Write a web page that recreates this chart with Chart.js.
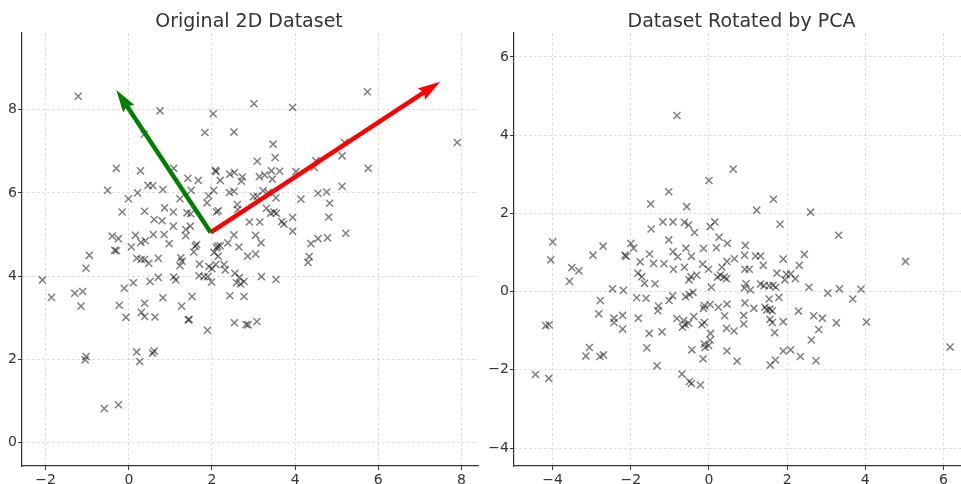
<!DOCTYPE html>
<html><head><meta charset="utf-8">
<script src="https://cdn.jsdelivr.net/npm/chart.js@4.4.0/dist/chart.umd.min.js"></script>
<style>
html,body{margin:0;padding:0;background:#fff;}
#w1{position:absolute;left:0;top:0;width:480px;height:484px;}
#w2{position:absolute;left:480px;top:0;width:481px;height:484px;}
</style></head><body>
<div id="w1"><canvas id="c1" width="480" height="484"></canvas></div>
<div id="w2"><canvas id="c2" width="481" height="484"></canvas></div>
<script>
const leftTitle = 'Original 2D Dataset';
const rightTitle = 'Dataset Rotated by PCA';
const leftXTicks = [-2, 0, 2, 4, 6, 8];
const leftYTicks = [0, 2, 4, 6, 8];
const rightXTicks = [-4, -2, 0, 2, 4, 6];
const rightYTicks = [-4, -2, 0, 2, 4, 6];

const origX = [-1.22,0.75,2.03,3.01,3.94,5.74,7.90,1.83,2.53,0.37,3.47,5.19,3.52,5.13,3.09,-0.30,0.28,1.08,1.42,1.67,2.08,2.10,2.20,2.43,2.54,2.73,2.71,3.14,3.27,3.43,3.45,3.63,4.02,4.46,4.50,5.76,-0.51,0.21,0.46,0.58,0.82,1.50,1.92,2.04,2.42,2.53,3.00,3.09,3.23,3.35,3.54,4.14,4.55,4.76,4.83,5.13,-0.01,-0.16,0.38,0.86,1.07,1.23,1.40,1.49,1.88,2.11,2.15,2.61,2.62,2.90,3.15,3.31,3.41,3.49,3.55,3.68,3.73,3.94,3.94,4.81,5.22,0.61,0.80,0.85,1.07,1.37,1.37,1.48,0.59,0.16,-0.40,-0.25,0.06,0.29,0.40,0.97,-0.34,-0.30,-0.95,-1.03,-2.08,-1.86,-1.30,-1.11,-1.15,-0.11,0.11,-0.23,-0.07,0.19,0.30,0.38,0.48,0.71,0.51,0.71,0.38,0.30,0.38,0.63,0.82,1.08,1.13,1.27,1.43,1.45,1.52,1.28,1.23,1.25,1.56,1.60,1.63,1.70,1.69,1.81,1.90,1.99,1.93,2.00,1.89,2.05,2.11,2.15,2.14,2.20,2.09,2.29,2.32,2.38,2.53,2.65,2.43,2.55,2.59,2.66,2.69,2.77,2.77,2.54,2.82,2.87,3.08,2.86,3.05,3.05,3.18,3.19,3.54,4.34,4.31,4.38,4.55,4.78,0.19,0.26,0.57,0.61,-1.03,-1.05,-0.59,-0.25];
const origY = [8.32,7.97,7.90,8.14,8.05,8.43,7.21,7.45,7.46,7.41,7.17,7.21,6.85,6.89,6.76,6.59,6.53,6.59,6.35,6.30,6.54,6.51,6.30,6.45,6.49,6.38,6.28,6.39,6.43,6.53,6.33,6.52,6.51,6.61,6.77,6.59,6.06,6.00,6.18,6.17,6.08,6.06,5.93,6.06,6.01,6.04,5.91,5.92,6.05,6.01,5.88,5.85,5.99,6.02,5.75,6.16,5.86,5.54,5.56,5.64,5.54,5.86,5.52,5.50,5.76,5.54,5.57,5.72,5.60,5.30,5.30,5.63,5.51,5.54,5.51,5.31,5.25,5.41,5.08,5.42,5.03,5.36,5.33,5.00,5.20,5.12,4.97,5.20,5.00,4.98,4.96,4.90,4.70,4.81,4.85,4.78,4.62,4.61,4.50,4.19,3.91,3.49,3.59,3.63,3.28,3.71,3.84,3.30,3.01,4.43,4.40,4.40,4.31,4.43,3.87,3.97,3.35,3.13,3.03,3.02,3.48,3.98,3.91,3.28,2.95,2.96,3.51,4.36,4.25,4.44,4.58,4.72,4.76,4.29,4.01,3.99,3.99,3.86,4.23,4.18,2.70,4.57,4.68,4.48,4.72,4.73,4.28,4.28,4.15,4.80,4.99,4.70,3.53,4.07,3.84,3.97,3.81,3.87,3.51,2.88,2.84,2.83,2.91,4.48,4.53,4.98,4.80,3.99,3.92,4.47,4.33,4.78,4.90,4.92,2.18,1.95,2.15,2.20,2.07,1.99,0.82,0.91];

const pcaX = [-0.82,0.62,0.00,-1.03,-1.49,-0.57,1.65,1.22,2.60,-1.18,-0.92,-0.63,-0.52,-0.37,-1.48,0.03,0.15,1.82,3.32,-4.00,-4.05,-2.71,-2.97,-2.00,-1.93,-2.15,-2.12,-1.03,-0.92,-0.80,-0.59,-0.45,-0.14,0.19,0.26,0.47,0.93,-1.52,-1.42,-1.15,-1.76,-0.91,-0.63,-0.16,0.46,0.65,0.33,0.91,1.19,1.32,1.39,1.03,0.92,1.90,2.44,2.31,5.03,-3.51,-3.33,-3.57,-1.82,-1.72,-1.65,-1.38,-0.51,-0.46,-0.31,-0.01,0.22,0.29,0.39,0.45,1.74,1.98,2.09,2.21,1.94,1.32,1.41,1.54,1.64,1.71,0.91,0.95,1.06,0.06,2.56,3.34,3.04,3.89,3.68,-2.47,-2.19,-2.78,-2.82,-1.85,-1.61,-0.93,-1.02,-0.60,-0.50,-0.41,-1.29,-1.31,0.03,-0.12,-0.14,0.24,0.46,0.92,1.15,1.43,1.48,1.56,1.62,1.54,1.79,2.29,2.68,2.90,3.26,4.03,2.81,2.62,2.74,6.17,-2.21,-2.43,-2.43,-2.21,-1.81,-4.09,-4.18,-1.53,-1.20,-0.82,-0.65,-0.61,-0.68,-0.52,-0.39,-0.18,-0.12,0.04,0.03,-0.12,-0.01,-0.10,-0.44,-0.15,0.40,0.45,0.64,0.89,0.89,0.46,0.72,1.56,1.62,1.68,1.90,1.90,2.09,2.34,1.70,1.57,-3.06,-3.15,-2.79,-2.70,-1.59,-1.33,-4.44,-4.10,-0.69,-0.50,-0.45,-0.22];
const pcaY = [4.50,3.13,2.84,2.55,2.24,2.17,2.36,2.08,2.03,1.78,1.78,1.77,1.70,1.51,1.60,1.66,1.78,1.72,1.44,1.27,0.81,1.16,0.93,1.23,1.11,0.93,0.90,1.32,1.02,0.89,1.11,0.90,1.10,1.12,1.39,1.23,1.18,0.96,0.72,0.71,0.76,0.57,0.62,0.70,0.77,0.84,0.62,0.93,0.91,0.91,0.67,0.57,0.57,0.83,0.95,0.67,0.77,0.61,0.53,0.26,0.47,0.38,0.21,0.20,0.30,0.38,0.42,0.57,0.37,0.42,0.37,0.33,0.47,0.44,0.45,0.33,0.30,0.19,0.15,0.15,0.16,0.11,0.09,0.20,0.04,0.11,0.11,0.07,-0.04,0.06,-0.19,0.07,0.03,-0.23,-0.57,-0.16,-0.17,-0.11,-0.23,-0.13,-0.08,-0.02,-0.37,-0.49,-0.33,-0.36,-0.43,-0.40,-0.32,-0.29,-0.43,-0.40,-0.47,-0.45,-0.49,-0.19,-0.15,-0.50,-0.62,-0.68,-0.80,-0.78,-0.97,-1.24,-1.77,-1.42,-0.61,-0.68,-0.79,-0.96,-0.68,-0.85,-0.87,-1.07,-1.03,-0.69,-0.74,-0.85,-0.91,-0.81,-0.64,-0.85,-0.79,-1.07,-1.24,-1.34,-1.38,-1.43,-1.49,-1.72,-0.62,-0.94,-1.01,-0.61,-0.83,-1.52,-1.78,-0.71,-0.79,-1.05,-0.77,-1.52,-1.49,-1.66,-1.75,-1.88,-1.43,-1.65,-1.66,-1.62,-1.44,-1.90,-2.12,-2.22,-2.11,-2.30,-2.35,-2.39];

const arrowStart = [1.97, 5.05];
const arrowEndX = [7.49, -0.30];
const arrowEndY = [8.67, 8.47];
const arrowColors = ['#ff0000', '#008000'];

const FONT = '"DejaVu Sans", "Liberation Sans", sans-serif';
const fmt = v => String(v).replace('-', '\u2212');

const titlePlugin = {
  id: 'axTitle',
  afterDraw(chart, args, opts) {
    const {ctx, chartArea} = chart;
    ctx.save();
    ctx.font = '19px ' + FONT;
    ctx.fillStyle = '#333333';
    ctx.textAlign = 'center';
    ctx.textBaseline = 'alphabetic';
    ctx.fillText(opts.text, (chartArea.left + chartArea.right) / 2 + opts.dx, 26.5);
    ctx.restore();
  }
};

const arrowPlugin = {
  id: 'pcaArrows',
  afterDatasetsDraw(chart, args, opts) {
    if (!opts.enabled) return;
    const {ctx, scales} = chart;
    const sx = scales.x.getPixelForValue(arrowStart[0]);
    const sy = scales.y.getPixelForValue(arrowStart[1]);
    const w = 4.5;
    ctx.save();
    for (let i = 0; i < arrowEndX.length; i++) {
      const tx = scales.x.getPixelForValue(arrowEndX[i]);
      const ty = scales.y.getPixelForValue(arrowEndY[i]);
      const dx = tx - sx, dy = ty - sy;
      const len = Math.hypot(dx, dy);
      const ux = dx / len, uy = dy / len;
      const px = -uy, py = ux;
      const neck = 4.5 * w, hl = 5 * w, hw = 1.5 * w;
      const nx = tx - ux * neck, ny = ty - uy * neck;
      const bx = tx - ux * hl, by = ty - uy * hl;
      ctx.beginPath();
      ctx.moveTo(sx + px * w / 2, sy + py * w / 2);
      ctx.lineTo(nx + px * w / 2, ny + py * w / 2);
      ctx.lineTo(bx + px * hw, by + py * hw);
      ctx.lineTo(tx, ty);
      ctx.lineTo(bx - px * hw, by - py * hw);
      ctx.lineTo(nx - px * w / 2, ny - py * w / 2);
      ctx.lineTo(sx - px * w / 2, sy - py * w / 2);
      ctx.closePath();
      ctx.fillStyle = arrowColors[i];
      ctx.fill();
    }
    ctx.restore();
  }
};

function axis(ticksArr, range, isY, fixedSize) {
  return {
    type: 'linear',
    min: range[0], max: range[1],
    afterBuildTicks: s => { s.ticks = ticksArr.map(v => ({value: v})); },
    afterFit: s => {
      if (isY) s.width = fixedSize; else s.height = fixedSize;
      s.paddingLeft = 0; s.paddingRight = 0; s.paddingTop = 0; s.paddingBottom = 0;
    },
    ticks: {
      callback: v => fmt(v),
      font: {family: FONT, size: 14},
      color: '#333333',
      padding: isY ? 1 : 2,
      maxRotation: 0, autoSkip: false
    },
    grid: {
      color: '#d0d0d0', lineWidth: 0.8,
      tickColor: '#333333', tickLength: 4, tickWidth: 1, tickBorderDash: []
    },
    border: {display: true, color: '#333333', width: 1.2, dash: [2.5, 2.5]}
  };
}

function makeChart(id, xs, ys, title, xT, yT, xR, yR, yW, padR, titleDx, arrows) {
  return new Chart(document.getElementById(id), {
    type: 'scatter',
    data: {
      datasets: [{
        data: xs.map((x, i) => ({x: x, y: ys[i]})),
        pointStyle: 'crossRot',
        pointRadius: 5,
        pointBorderWidth: 1.5,
        borderColor: 'rgba(0,0,0,0.5)',
        backgroundColor: 'rgba(0,0,0,0.5)'
      }]
    },
    options: {
      responsive: false,
      animation: false,
      devicePixelRatio: 1,
      layout: {autoPadding: false, padding: {top: 33, right: padR, left: 0, bottom: 0}},
      plugins: {
        legend: {display: false},
        tooltip: {enabled: false},
        title: {display: false},
        axTitle: {text: title, dx: titleDx},
        pcaArrows: {enabled: arrows}
      },
      scales: {
        x: axis(xT, xR, false, 18),
        y: axis(yT, yR, true, yW)
      }
    },
    plugins: [titlePlugin, arrowPlugin]
  });
}

makeChart('c1', origX, origY, leftTitle, leftXTicks, leftYTicks, [-2.57, 8.40], [-0.56, 9.84], 22, 2, -1, true);
makeChart('c2', pcaX, pcaY, rightTitle, rightXTicks, rightYTicks, [-4.99, 6.45], [-4.46, 6.61], 34, 0, 4, false);
</script>
</body></html>
